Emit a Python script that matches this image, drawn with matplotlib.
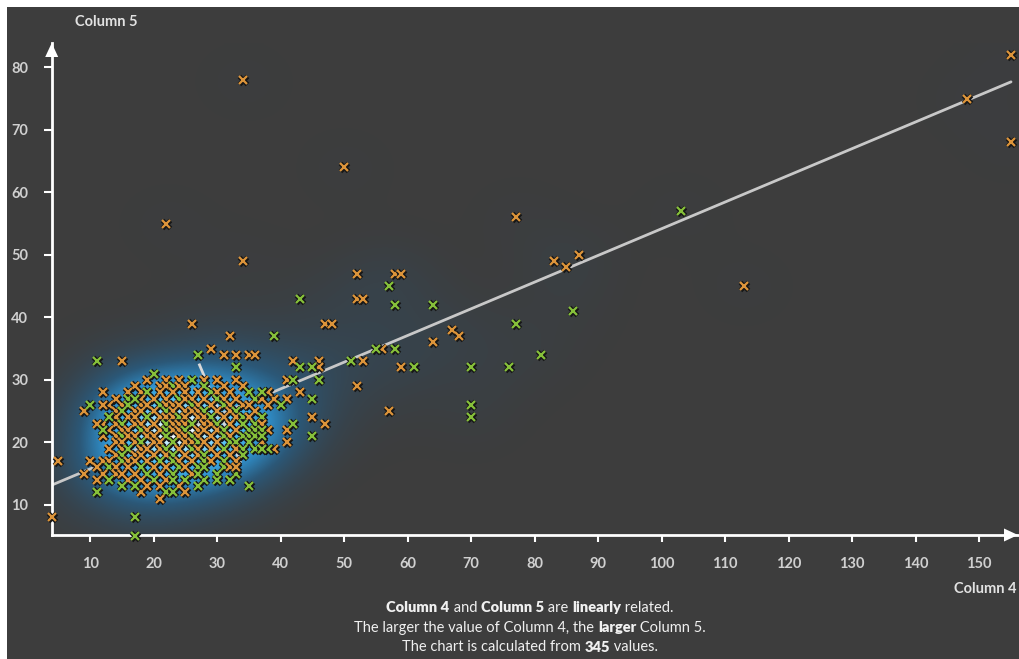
import numpy as np
import matplotlib
matplotlib.use("Agg")
import matplotlib.pyplot as plt
from matplotlib.colors import LinearSegmentedColormap
from matplotlib.patches import Rectangle, Polygon

#####DATA#####
#outlying points (Column 4, Column 5)
orange_x = [34, 155, 148, 155, 50, 22, 77, 113, 34, 83, 87, 85, 52, 58, 59, 52, 53,
            26, 47, 48, 67, 68, 32, 64, 56, 59, 52, 57, 29, 31, 33, 35, 36, 42, 46,
            46, 53, 43, 45, 47, 41, 41, 38, 41, 41, 33, 21, 15, 19, 12, 9, 12, 11,
            5, 4, 9, 10, 11, 11, 19]
orange_y = [78, 82, 75, 68, 64, 55, 56, 45, 49, 49, 50, 48, 47, 47, 47, 43, 43,
            39, 39, 39, 38, 37, 37, 36, 35, 32, 29, 25, 35, 34, 34, 34, 34, 33, 33,
            32, 33, 28, 24, 23, 30, 27, 28, 22, 20, 16, 11, 33, 30, 28, 25, 26, 23,
            17, 8, 15, 17, 16, 14, 13]
green_x = [103, 57, 43, 58, 64, 86, 77, 39, 58, 55, 81, 76, 70, 61, 70, 70, 51,
           45, 43, 46, 45, 45, 27, 33, 42, 40, 42, 37, 37, 37, 38, 37, 35, 32, 30,
           27, 28, 11, 20, 10, 13, 12, 17, 17, 11, 13, 15, 17, 17, 23, 23]
green_y = [57, 45, 43, 42, 42, 41, 39, 37, 35, 35, 34, 32, 32, 32, 26, 24, 33,
           32, 32, 30, 27, 21, 34, 32, 30, 26, 23, 28, 22, 21, 19, 19, 13, 14, 14,
           15, 16, 33, 31, 26, 24, 22, 8, 5, 12, 14, 13, 13, 27, 14, 12]

#the dense cloud, one row per Column 5 value; o = orange, g = green
cloud_y = [30, 29, 28, 27, 26, 25, 24, 23, 22, 21, 20, 19, 18, 17, 16, 15, 14, 13, 12]
cloud_x = [[22, 24, 26, 28, 30, 33],
           [17, 21, 22, 23, 24, 25, 28, 31, 34],
           [16, 18, 19, 21, 23, 25, 27, 29, 30, 32, 35, 38],
           [14, 16, 17, 18, 20, 22, 24, 25, 26, 28, 30, 31, 33, 36, 37, 39],
           [13, 15, 16, 18, 19, 21, 22, 23, 24, 26, 27, 29, 31, 32, 34, 35, 38],
           [14, 15, 17, 18, 20, 22, 23, 25, 26, 27, 28, 30, 32, 33, 36],
           [13, 14, 16, 17, 19, 21, 22, 23, 24, 25, 27, 28, 29, 31, 33, 34, 35, 37],
           [12, 14, 15, 17, 18, 20, 22, 23, 24, 25, 26, 28, 29, 30, 32, 34, 36, 37],
           [13, 15, 16, 18, 19, 21, 22, 23, 24, 25, 27, 28, 30, 31, 33, 35, 36, 38],
           [12, 14, 15, 16, 17, 19, 20, 22, 24, 25, 26, 27, 29, 31, 32, 34, 35, 36, 37],
           [14, 15, 17, 18, 20, 21, 23, 25, 26, 27, 28, 30, 32, 33, 35, 37],
           [13, 15, 16, 18, 19, 21, 22, 24, 26, 27, 29, 31, 33, 34, 36, 37, 38, 39],
           [14, 15, 17, 18, 20, 22, 23, 25, 27, 28, 30, 32, 34],
           [12, 13, 15, 16, 17, 19, 21, 23, 24, 26, 28, 29, 31, 33],
           [11, 13, 14, 16, 18, 20, 22, 24, 25, 27, 31, 32],
           [12, 14, 15, 17, 19, 21, 23, 26, 30, 33],
           [13, 16, 18, 20, 22, 25, 28, 32],
           [17, 19, 21, 24, 27],
           [18, 22, 25]]
cloud_c = ["oogooo", "ooogoogoo", "oogoooogoogo", "ogoooogooogoogoo",
           "oogoogooogoogoooo", "ogooogoooogoogo", "oooogooogooogoogog",
           "oogooogooogoogoggo", "ooogoogoogooogoggo", "oogoooogoogoogogggo",
           "ooogoogoogoogggo", "oogooogogoogoggggo", "ogoooogoogoog",
           "oogoooggoogogo", "ogoogoogoggo", "oooogogogg", "ooogoggo", "gooog", "ogo"]

#fitted line
fit_slope = 0.427
fit_intercept = 11.5

x_ticks = [10, 20, 30, 40, 50, 60, 70, 80, 90, 100, 110, 120, 130, 140, 150]
y_ticks = [10, 20, 30, 40, 50, 60, 70, 80]
x_label = "Column 4"
y_label = "Column 5"
n_values = 345
#####END DATA#####

bg = "#3d3d3d"
orange = "#dc943a"
green = "#86c03a"
W, H = 1019, 659

#collect every point with its colour
px, py, pc = [], [], []
for yv, xs, cs in zip(cloud_y, cloud_x, cloud_c):
    for xv, c in zip(xs, cs):
        px.append(xv); py.append(yv); pc.append(orange if c == "o" else green)
for xv, yv in zip(orange_x, orange_y):
    px.append(xv); py.append(yv); pc.append(orange)
for xv, yv in zip(green_x, green_y):
    px.append(xv); py.append(yv); pc.append(green)
px = np.array(px, float); py = np.array(py, float)

fig = plt.figure(figsize=(W / 100, H / 100), dpi=100, facecolor="white")
fig.patches.append(Rectangle((7 / W, 0), 1, 652 / H, transform=fig.transFigure,
                             facecolor=bg, edgecolor="none", zorder=-10))

#axes box in pixels
ax_l, ax_r, ax_b, ax_t = 51.7, 1018, 535, 43
ax = fig.add_axes([ax_l / W, (H - ax_b) / H, (ax_r - ax_l) / W, (ax_b - ax_t) / H])
ax.set_facecolor(bg)
xmin, xmax, ymin, ymax = 3.94, 156.1, 5.2, 83.9
ax.set_xlim(xmin, xmax)
ax.set_ylim(ymin, ymax)

#blue glow: density of the points
gx, gy = np.meshgrid(np.linspace(xmin, xmax, 300), np.linspace(ymin, ymax, 160))
dens = np.zeros_like(gx)
for xv, yv in zip(px, py):
    dens += np.exp(-0.5 * (((gx - xv) / 5.5) ** 2 + ((gy - yv) / 4.6) ** 2))
dens = dens / dens.max()
glow = LinearSegmentedColormap.from_list("glow", [(0, bg), (0.08, "#37434c"),
                                                  (0.3, "#2b5878"), (0.55, "#2f8cc6"),
                                                  (0.8, "#4bbcf3"), (0.94, "#9fe2ff"),
                                                  (1.0, "#ffffff")])
ax.imshow(dens, cmap=glow, vmin=0, vmax=1, origin="lower", aspect="auto",
          extent=[xmin, xmax, ymin, ymax], interpolation="bilinear", zorder=0)

#regression line
lx = np.array([xmin, px.max()])
ax.plot(lx, fit_intercept + fit_slope * lx, color="#c8c8c8", lw=2, zorder=2,
        solid_capstyle="round")

#short cross line through the centroid, perpendicular on screen
sx = (ax_r - ax_l) / (xmax - xmin)
sy = (ax_b - ax_t) / (ymax - ymin)
perp = -(sx / sy) ** 2 / fit_slope
cx, cy = px.mean(), py.mean()
sx_ = np.array([cx - 3.2, cx + 3.2])
ax.plot(sx_, cy + perp * (sx_ - cx), color="#d8d8d8", lw=2, zorder=2)

#crosses, each with its own dark outline
for xv, yv, c in zip(px, py, pc):
    ax.plot(xv, yv, marker="x", ms=6, mew=3.6, color="#161616", zorder=3, clip_on=False)
    ax.plot(xv, yv, marker="x", ms=6, mew=1.6, color=c, zorder=3, clip_on=False)

#axis styling
for s in ["top", "right"]:
    ax.spines[s].set_visible(False)
for s in ["left", "bottom"]:
    ax.spines[s].set_color("white")
    ax.spines[s].set_linewidth(2)
ax.set_xticks(x_ticks)
ax.set_yticks(y_ticks)
ax.tick_params(axis="x", direction="out", length=5, width=1.5, color="white",
               pad=11, labelcolor="#d0d0d0", labelsize=10.5)
ax.tick_params(axis="y", direction="out", length=6, width=1.5, color="white",
               pad=11, labelcolor="#d0d0d0", labelsize=10.5)
for lab in ax.get_xticklabels() + ax.get_yticklabels():
    lab.set_fontfamily("Lato")
    lab.set_fontweight("bold")

#arrow heads
fig.patches.append(Polygon([[ax_l / W, (H - 43) / H], [(ax_l - 6.5) / W, (H - 57) / H],
                            [(ax_l + 6.5) / W, (H - 57) / H]], closed=True,
                           transform=fig.transFigure, facecolor="white", edgecolor="none"))
fig.patches.append(Polygon([[ax_r / W, (H - ax_b) / H], [(ax_r - 14) / W, (H - ax_b + 6.5) / H],
                            [(ax_r - 14) / W, (H - ax_b - 6.5) / H]], closed=True,
                           transform=fig.transFigure, facecolor="white", edgecolor="none"))

#axis titles
fig.text(75 / W, (H - 22) / H, y_label, fontfamily="Lato", fontweight="bold",
         fontsize=10.5, color="#e2e2e2", ha="left", va="center")
fig.text(1016 / W, (H - 589) / H, x_label, fontfamily="Lato", fontweight="bold",
         fontsize=10.5, color="#e2e2e2", ha="right", va="center")

#caption with bold words
caption = [[(x_label, True), (" and ", False), (y_label, True), (" are ", False),
            ("linearly", True), (" related.", False)],
           [("The larger the value of " + x_label + ", the ", False), ("larger", True),
            (" " + y_label + ".", False)],
           [("The chart is calculated from ", False), (str(n_values), True), (" values.", False)]]
caption_y = [608, 628, 647]
renderer = fig.canvas.get_renderer()
for parts, yp in zip(caption, caption_y):
    texts = []
    for s, b in parts:
        t = fig.text(0, (H - yp) / H, s, fontfamily="Lato", fontsize=10.5,
                     fontweight="heavy" if b else "normal", color="#f0f0f0",
                     ha="left", va="center")
        texts.append(t)
    widths = [t.get_window_extent(renderer).width for t in texts]
    x0 = 530 - sum(widths) / 2
    for t, w in zip(texts, widths):
        t.set_x(x0 / W)
        x0 += w

fig.savefig("out.png", dpi=100, facecolor=fig.get_facecolor())
